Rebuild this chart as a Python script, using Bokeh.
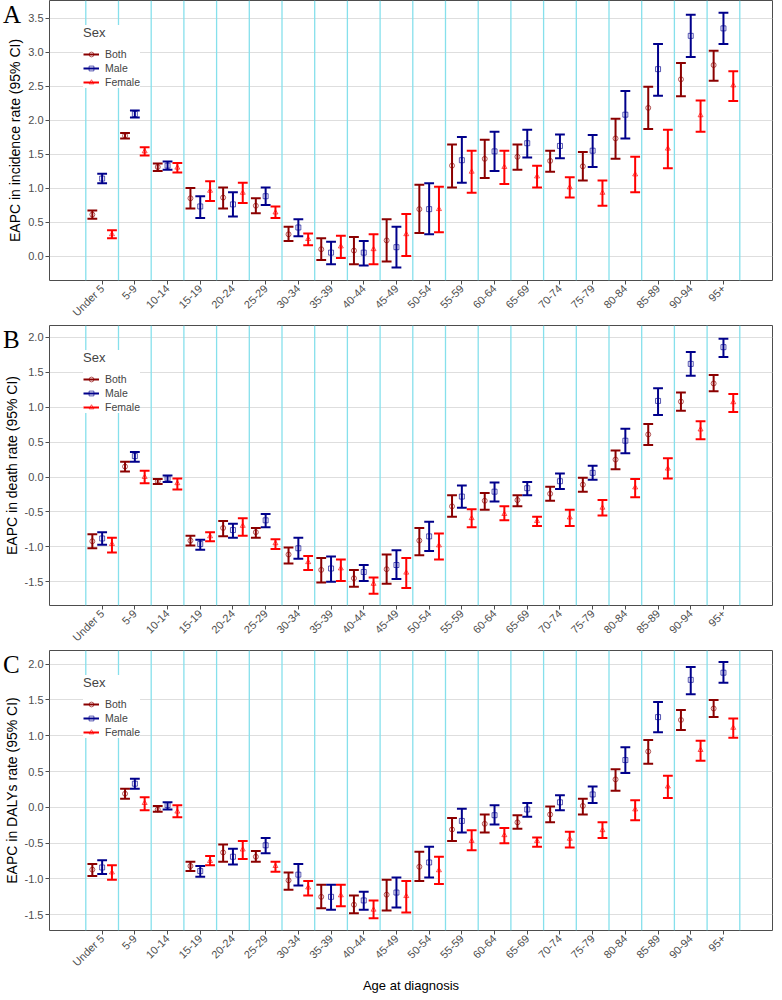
import numpy as np
from bokeh.plotting import figure
from bokeh.models import (Range1d, FixedTicker, PrintfTickFormatter, Span, Legend,
                          LegendItem, ColumnDataSource, Div)
from bokeh.layouts import column
from bokeh.embed import file_html
from bokeh.resources import INLINE

ages = ["Under 5", "5-9", "10-14", "15-19", "20-24", "25-29", "30-34", "35-39",
        "40-44", "45-49", "50-54", "55-59", "60-64", "65-69", "70-74", "75-79",
        "80-84", "85-89", "90-94", "95+"]
sexes = ["Both", "Male", "Female"]

# ---- Panel A: EAPC in incidence rate ----
inc_both = [0.61, 1.77, 1.31, 0.85, 0.86, 0.74, 0.32, 0.10, 0.08, 0.23, 0.69, 1.33, 1.43, 1.46, 1.40, 1.32, 1.73, 2.18, 2.60, 2.81]
inc_both_lo = [0.55, 1.73, 1.25, 0.70, 0.70, 0.63, 0.22, -0.06, -0.12, -0.08, 0.34, 1.01, 1.15, 1.27, 1.24, 1.11, 1.43, 1.87, 2.35, 2.58]
inc_both_hi = [0.67, 1.81, 1.36, 1.00, 1.01, 0.85, 0.43, 0.26, 0.28, 0.54, 1.05, 1.64, 1.71, 1.64, 1.55, 1.53, 2.02, 2.49, 2.84, 3.02]
inc_male = [1.14, 2.09, 1.33, 0.73, 0.76, 0.88, 0.42, 0.05, 0.05, 0.13, 0.69, 1.41, 1.54, 1.66, 1.62, 1.55, 2.08, 2.75, 3.24, 3.35]
inc_male_lo = [1.07, 2.04, 1.27, 0.56, 0.58, 0.75, 0.29, -0.12, -0.14, -0.17, 0.32, 1.08, 1.25, 1.45, 1.44, 1.31, 1.73, 2.36, 2.93, 3.12]
inc_male_hi = [1.21, 2.14, 1.39, 0.88, 0.94, 1.01, 0.54, 0.21, 0.22, 0.43, 1.07, 1.75, 1.83, 1.86, 1.79, 1.78, 2.43, 3.12, 3.55, 3.58]
inc_female = [0.32, 1.54, 1.30, 0.96, 0.93, 0.64, 0.25, 0.14, 0.10, 0.32, 0.69, 1.24, 1.31, 1.17, 1.01, 0.93, 1.20, 1.58, 2.07, 2.51]
inc_female_lo = [0.26, 1.48, 1.23, 0.81, 0.78, 0.56, 0.16, -0.03, -0.12, 0.00, 0.35, 0.93, 1.06, 1.01, 0.86, 0.74, 0.94, 1.29, 1.83, 2.28]
inc_female_hi = [0.38, 1.60, 1.37, 1.10, 1.08, 0.73, 0.33, 0.30, 0.32, 0.62, 1.02, 1.55, 1.55, 1.33, 1.16, 1.11, 1.46, 1.86, 2.29, 2.72]

# ---- Panel B: EAPC in death rate ----
dth_both = [-0.92, 0.15, -0.06, -0.91, -0.73, -0.79, -1.11, -1.33, -1.45, -1.32, -0.91, -0.42, -0.34, -0.33, -0.24, -0.11, 0.25, 0.61, 1.08, 1.34]
dth_both_lo = [-1.02, 0.08, -0.10, -0.98, -0.85, -0.87, -1.24, -1.51, -1.57, -1.53, -1.12, -0.57, -0.47, -0.42, -0.34, -0.21, 0.11, 0.46, 0.95, 1.23]
dth_both_hi = [-0.82, 0.22, -0.03, -0.84, -0.63, -0.73, -1.01, -1.16, -1.33, -1.11, -0.73, -0.26, -0.23, -0.26, -0.14, -0.01, 0.38, 0.76, 1.21, 1.46]
dth_male = [-0.88, 0.30, -0.02, -0.96, -0.76, -0.62, -1.02, -1.31, -1.36, -1.26, -0.85, -0.28, -0.21, -0.16, -0.06, 0.06, 0.52, 1.09, 1.62, 1.86]
dth_male_lo = [-0.97, 0.22, -0.07, -1.04, -0.87, -0.72, -1.17, -1.50, -1.49, -1.46, -1.06, -0.44, -0.35, -0.26, -0.17, -0.04, 0.34, 0.89, 1.45, 1.72]
dth_male_hi = [-0.79, 0.36, 0.02, -0.90, -0.67, -0.53, -0.87, -1.14, -1.26, -1.05, -0.64, -0.12, -0.08, -0.07, 0.05, 0.16, 0.69, 1.27, 1.79, 1.98]
dth_female = [-0.96, 0.00, -0.09, -0.85, -0.70, -0.95, -1.22, -1.31, -1.53, -1.37, -0.98, -0.59, -0.53, -0.63, -0.58, -0.44, -0.15, 0.12, 0.68, 1.07]
dth_female_lo = [-1.08, -0.09, -0.18, -0.92, -0.84, -1.03, -1.33, -1.49, -1.67, -1.59, -1.18, -0.72, -0.62, -0.70, -0.70, -0.55, -0.29, -0.02, 0.54, 0.93]
dth_female_hi = [-0.87, 0.09, -0.02, -0.79, -0.59, -0.89, -1.13, -1.18, -1.44, -1.16, -0.81, -0.46, -0.42, -0.57, -0.47, -0.33, -0.03, 0.27, 0.80, 1.19]

# ---- Panel C: EAPC in DALYs rate ----
dal_both = [-0.87, 0.19, -0.03, -0.82, -0.63, -0.69, -1.02, -1.25, -1.36, -1.22, -0.83, -0.31, -0.23, -0.21, -0.10, 0.02, 0.39, 0.78, 1.22, 1.38]
dal_both_lo = [-0.96, 0.12, -0.06, -0.89, -0.76, -0.76, -1.15, -1.41, -1.48, -1.44, -1.03, -0.47, -0.35, -0.30, -0.21, -0.10, 0.23, 0.61, 1.08, 1.26]
dal_both_hi = [-0.79, 0.26, 0.02, -0.76, -0.52, -0.61, -0.91, -1.08, -1.23, -1.01, -0.62, -0.15, -0.10, -0.11, 0.01, 0.12, 0.53, 0.94, 1.36, 1.50]
dal_male = [-0.84, 0.33, 0.03, -0.89, -0.69, -0.53, -0.94, -1.25, -1.30, -1.19, -0.77, -0.19, -0.11, -0.03, 0.07, 0.18, 0.66, 1.26, 1.78, 1.88]
dal_male_lo = [-0.93, 0.26, -0.03, -0.97, -0.80, -0.64, -1.09, -1.43, -1.43, -1.40, -0.98, -0.35, -0.24, -0.13, -0.04, 0.06, 0.48, 1.05, 1.58, 1.74]
dal_male_hi = [-0.74, 0.40, 0.07, -0.82, -0.58, -0.43, -0.79, -1.08, -1.18, -0.98, -0.55, -0.02, 0.03, 0.06, 0.17, 0.29, 0.84, 1.47, 1.96, 2.03]
dal_female = [-0.91, 0.06, -0.06, -0.75, -0.59, -0.82, -1.12, -1.23, -1.43, -1.24, -0.88, -0.47, -0.39, -0.47, -0.44, -0.32, -0.03, 0.29, 0.80, 1.11]
dal_female_lo = [-1.01, -0.04, -0.14, -0.81, -0.72, -0.90, -1.23, -1.38, -1.55, -1.47, -1.07, -0.60, -0.50, -0.55, -0.56, -0.43, -0.18, 0.13, 0.65, 0.97]
dal_female_hi = [-0.81, 0.14, 0.03, -0.68, -0.47, -0.76, -1.03, -1.08, -1.30, -1.03, -0.69, -0.32, -0.29, -0.42, -0.34, -0.21, 0.10, 0.44, 0.93, 1.24]

y_ticks = [-1.5, -1.0, -0.5, 0.0, 0.5, 1.0, 1.5, 2.0, 2.5, 3.0, 3.5]

COLORS = {"Both": "#8B0000", "Male": "#00008B", "Female": "#FF0000"}
MARKERS = {"Both": "circle", "Male": "square", "Female": "triangle"}
OFFSETS = {"Both": -0.3, "Male": 0.0, "Female": 0.3}
CAP = 0.15
CYAN = "#86E0EC"
FONT = "Liberation Sans"
FH = 280
X0, X1 = -1.61, 20.5
LEG_H = 72


def make_panel(ylabel, series, y0, y1, xlabel=None):
    p = figure(width=774, frame_height=FH,
               x_range=Range1d(X0, X1), y_range=Range1d(y0, y1),
               output_backend="svg", toolbar_location=None,
               min_border=0, min_border_right=2)
    p.background_fill_color = "white"
    p.border_fill_color = "white"
    p.outline_line_color = "#4D4D4D"
    p.outline_line_width = 1

    p.xgrid.visible = False
    p.ygrid.grid_line_color = "#DEDEDE"
    p.ygrid.grid_line_width = 1
    p.yaxis.ticker = FixedTicker(ticks=[t for t in y_ticks if y0 <= t <= y1])
    p.yaxis.formatter = PrintfTickFormatter(format="%.1f")
    p.xaxis.ticker = FixedTicker(ticks=list(range(len(ages))))
    p.xaxis.major_label_overrides = {i: a for i, a in enumerate(ages)}
    p.xaxis.major_label_orientation = np.pi / 4

    for ax in (p.xaxis[0], p.yaxis[0]):
        ax.axis_line_color = None
        ax.major_tick_line_color = "#4D4D4D"
        ax.major_tick_out = 4
        ax.major_tick_in = 0
        ax.minor_tick_line_color = None
        ax.major_label_text_color = "#4D4D4D"
        ax.major_label_text_font = FONT
        ax.major_label_text_font_size = "11px"
        ax.major_label_standoff = 2
        ax.axis_label_text_font = FONT
        ax.axis_label_text_font_style = "normal"
        ax.axis_label_text_color = "black"
    p.yaxis.axis_label = ylabel
    p.yaxis.axis_label_text_font_size = "14px"
    p.yaxis.axis_label_standoff = 2
    if xlabel:
        p.xaxis.axis_label = xlabel
        p.xaxis.axis_label_text_font_size = "13px"
        p.xaxis.axis_label_standoff = 2

    for i in range(len(ages) + 1):
        p.add_layout(Span(location=i - 0.5, dimension="height", line_color=CYAN,
                          line_width=1.3, level="underlay"))

    items = []
    base = np.arange(len(ages))
    for name in sexes:
        val, lo, hi = series[name]
        x = base + OFFSETS[name]
        src = ColumnDataSource(dict(x=x, xl=x - CAP, xr=x + CAP, y=val, lo=lo, hi=hi))
        c = COLORS[name]
        v = p.segment(x0="x", y0="lo", x1="x", y1="hi", source=src, line_color=c, line_width=2)
        p.segment(x0="xl", y0="hi", x1="xr", y1="hi", source=src, line_color=c, line_width=2)
        p.segment(x0="xl", y0="lo", x1="xr", y1="lo", source=src, line_color=c, line_width=2)
        s = p.scatter(x="x", y="y", source=src, marker=MARKERS[name], size=5,
                      fill_color=None, line_color=c, line_alpha=0.65, line_width=1)
        items.append(LegendItem(label=name, renderers=[v, s]))

    leg = Legend(items=items, title="Sex", location=(34, FH - 16 - LEG_H),
                 background_fill_color="white", background_fill_alpha=1,
                 border_line_color=None, padding=4, margin=0, spacing=2,
                 glyph_width=16, glyph_height=12, label_height=12,
                 label_text_font=FONT, label_text_font_size="10.5px",
                 title_text_font=FONT, title_text_font_size="13px",
                 title_text_font_style="normal", title_standoff=8,
                 label_standoff=6)
    p.add_layout(leg)
    return p


def letter_div(letter):
    # zero-height overlay carrying the panel letter at the top-left corner
    html = ('<span style="position:absolute; left:3px; top:2px; '
            'font-family:\'Liberation Serif\', serif; font-size:25px; '
            'line-height:25px; color:black;">%s</span>' % letter)
    return Div(text=html, width=30, height=0, margin=0,
               styles={"position": "relative", "z-index": "10",
                       "overflow": "visible"})


pA = make_panel("EAPC in incidence rate (95% CI)",
                {"Both": (inc_both, inc_both_lo, inc_both_hi),
                 "Male": (inc_male, inc_male_lo, inc_male_hi),
                 "Female": (inc_female, inc_female_lo, inc_female_hi)}, -0.36, 3.76)
pB = make_panel("EAPC in death rate (95% CI)",
                {"Both": (dth_both, dth_both_lo, dth_both_hi),
                 "Male": (dth_male, dth_male_lo, dth_male_hi),
                 "Female": (dth_female, dth_female_lo, dth_female_hi)}, -1.84, 2.17)
pC = make_panel("EAPC in DALYs rate (95% CI)",
                {"Both": (dal_both, dal_both_lo, dal_both_hi),
                 "Male": (dal_male, dal_male_lo, dal_male_hi),
                 "Female": (dal_female, dal_female_lo, dal_female_hi)}, -1.72, 2.19,
                xlabel="Age at diagnosis")

layout = column(letter_div("A"), pA, letter_div("B"), pB, letter_div("C"), pC, spacing=0)
open("out.html", "w").write(file_html(layout, INLINE))
